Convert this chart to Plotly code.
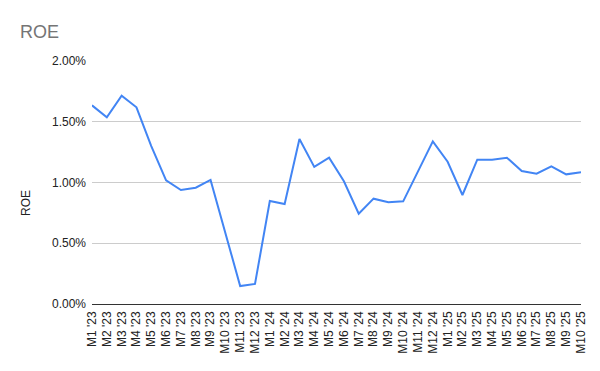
import plotly.graph_objects as go

months = ["M1 '23", "M2 '23", "M3 '23", "M4 '23", "M5 '23", "M6 '23", "M7 '23", "M8 '23",
          "M9 '23", "M10 '23", "M11 '23", "M12 '23",
          "M1 '24", "M2 '24", "M3 '24", "M4 '24", "M5 '24", "M6 '24", "M7 '24", "M8 '24",
          "M9 '24", "M10 '24", "M11 '24", "M12 '24",
          "M1 '25", "M2 '25", "M3 '25", "M4 '25", "M5 '25", "M6 '25", "M7 '25", "M8 '25",
          "M9 '25", "M10 '25"]

roe = [1.635, 1.536, 1.715, 1.619, 1.30, 1.018, 0.938, 0.957, 1.021, 0.58, 0.148, 0.165,
       0.848, 0.823, 1.358, 1.128, 1.204, 1.01, 0.743, 0.867, 0.837, 0.845, 1.09, 1.339,
       1.171, 0.897, 1.188, 1.188, 1.204, 1.095, 1.073, 1.133, 1.067, 1.084]
roe_frac = [v / 100 for v in roe]

fig = go.Figure()
fig.add_trace(go.Scatter(
    x=months, y=roe_frac, mode="lines",
    line=dict(color="#4285F4", width=2),
    hovertemplate="%{x}: %{y:.2%}<extra></extra>",
))

fig.update_layout(
    width=600, height=371,
    margin=dict(l=92, r=19, t=61, b=67),
    paper_bgcolor="white", plot_bgcolor="white",
    font=dict(family="Liberation Sans, Arial, sans-serif", size=12, color="#222222"),
    showlegend=False,
    title=dict(text="ROE", x=20 / 600, xanchor="left", xref="container",
               y=1 - 31.5 / 371, yanchor="middle", yref="container",
               font=dict(size=18, color="#757575")),
    xaxis=dict(
        type="category", tickangle=-90, showgrid=False, ticks="",
        showline=False, tickfont=dict(size=12, color="#222222"),
        ticklabelstandoff=4,
    ),
    yaxis=dict(
        range=[0, 0.02], tickvals=[0, 0.005, 0.01, 0.015, 0.02], tickformat=".2%",
        showgrid=True, gridcolor="#cccccc", gridwidth=1,
        zeroline=True, zerolinecolor="#333333", zerolinewidth=1,
        showline=False, ticks="", tickfont=dict(size=12, color="#222222"),
        ticklabelstandoff=5,
    ),
    annotations=[dict(
        text="ROE", xref="paper", yref="paper", x=-(92 - 26) / 489, y=(304 - 203) / 243,
        xanchor="center", yanchor="middle", textangle=-90, showarrow=False,
        font=dict(size=12, color="#222222"),
    )],
)

fig.write_html("out.html")
